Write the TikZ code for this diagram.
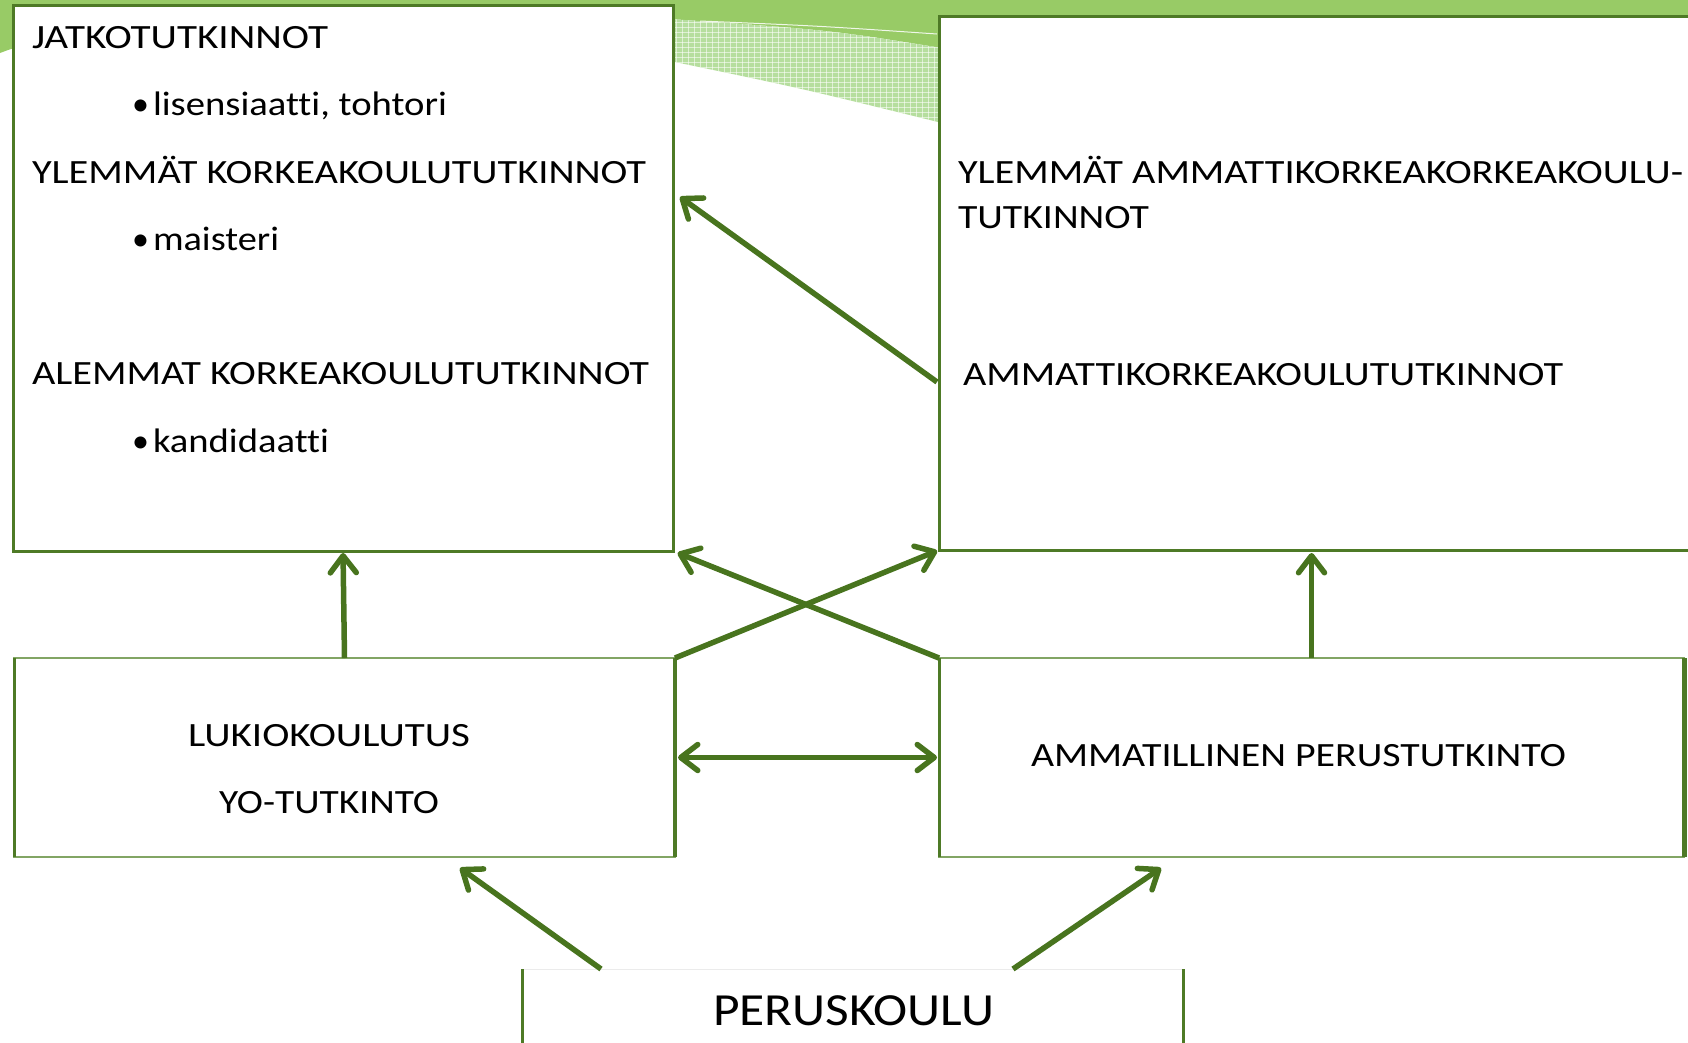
\documentclass[tikz,border=0pt]{standalone}
\usepackage{fontspec}
\setmainfont{Carlito}[Ligatures={CommonOff}]
\usepackage{graphicx}
\usetikzlibrary{arrows.meta,calc}
\definecolor{bandgreen}{RGB}{152,203,102}
\definecolor{hatchgreen}{RGB}{182,222,158}
\definecolor{boxgreen}{RGB}{78,122,38}
\definecolor{thinline}{RGB}{130,165,100}
\definecolor{arrowgreen}{RGB}{72,116,30}
\newcommand\fitw[2]{\resizebox{#1pt}{\height}{#2}}
\newcommand\bul{\makebox[21pt][l]{\textbullet}}
\tikzset{
  box/.style={rectangle, inner sep=0pt, outer sep=0pt, fill=white},
  thickbox/.style={box, draw=boxgreen, line width=3pt},
  thinbox/.style={box, draw=thinline, line width=1.5pt},
  txt/.style={inner sep=0pt, outer sep=0pt, anchor=base west, font=\fontsize{34}{40}\selectfont},
  bigtxt/.style={inner sep=0pt, outer sep=0pt, anchor=base west, font=\fontsize{46}{54}\selectfont},
  arr/.style={draw=arrowgreen, line width=5.5pt, line cap=butt,
    -{Straight Barb[length=17pt,width=26pt,round]}},
  darr/.style={draw=arrowgreen, line width=5.5pt, line cap=butt,
    {Straight Barb[length=17pt,width=26pt,round]}-{Straight Barb[length=17pt,width=26pt,round]}},
}
\begin{document}
\begin{tikzpicture}[x=1pt,y=-1pt]
\useasboundingbox (0,0) rectangle (1688,1042);
\begin{scope}
\clip (0,0) rectangle (1688,1042);
% background band
\fill[bandgreen] (0,0) rectangle (1688,17);
\fill[bandgreen] (0,0) -- (14,0) -- (14,48) .. controls (8,50) .. (0,53) -- cycle;
\fill[bandgreen] (670,0) -- (942,0) -- (942,48) .. controls (830,30) .. (670,19) -- cycle;
\fill[hatchgreen] (670,19) .. controls (830,30) .. (942,48) -- (942,123) .. controls (800,88) .. (670,61) -- cycle;
\begin{scope}
\clip (670,19) .. controls (830,30) .. (942,48) -- (942,123) .. controls (800,88) .. (670,61) -- cycle;
\foreach \i in {0,...,46} {\draw[white, line width=0.6pt, opacity=0.55] (670+6*\i,0) -- (670+6*\i,130);}
\foreach \j in {0,...,22} {\draw[white, line width=0.6pt, opacity=0.55] (660,12+5*\j) -- (950,12+5*\j);}
\end{scope}
\draw[white!85!bandgreen, line width=1pt] (700,21) .. controls (820,26) .. (937,34);

% boxes
\node[thickbox, minimum width=660pt, minimum height=546pt] (tl) at (343,278) {};
\node[thickbox, minimum width=771pt, minimum height=534pt] (tr) at (1324.5,283) {};
\node[thinbox, minimum width=661pt, minimum height=199pt] (ml) at (344.5,757.5) {};
\node[thinbox, minimum width=745pt, minimum height=199pt] (mr) at (1311.5,757.5) {};
\node[box, draw=white!92!black, line width=1pt, minimum width=661pt, minimum height=140pt] (pk) at (852.5,1039) {};
\end{scope}
% thicker edges
\draw[boxgreen, line width=3pt] (ml.north west) -- (ml.south west);
\draw[boxgreen, line width=3.5pt] (ml.north east) -- (ml.south east);
\draw[boxgreen, line width=3pt] (mr.north west) -- (mr.south west);
\draw[boxgreen, line width=5pt] (mr.north east) -- (mr.south east);
\draw[boxgreen, line width=3pt] (pk.north west) -- (pk.south west);
\draw[boxgreen, line width=3pt] (pk.north east) -- (pk.south east);

% texts
\node[txt] (t1) at (32,48) {\fitw{296}{JATKOTUTKINNOT}};
\node[txt] (t2) at (132,115) {\bul\fitw{294}{lisensiaatti, tohtori}};
\node[txt] (t3) at (32,183) {\fitw{614}{YLEMMÄT KORKEAKOULUTUTKINNOT}};
\node[txt] (t4) at (132,250) {\bul\fitw{126}{maisteri}};
\node[txt] (t5) at (32,384) {\fitw{617}{ALEMMAT KORKEAKOULUTUTKINNOT}};
\node[txt] (t6) at (132,452) {\bul\fitw{176}{kandidaatti}};
\node[txt] (t7) at (958,183) {\fitw{725}{YLEMMÄT AMMATTIKORKEAKORKEAKOULU-}};
\node[txt] (t8) at (958,228) {\fitw{191}{TUTKINNOT}};
\node[txt] (t9) at (963,385) {\fitw{600}{AMMATTIKORKEAKOULUTUTKINNOT}};
\node[txt] (t10) at (188,746) {\fitw{282}{LUKIOKOULUTUS}};
\node[txt] (t11) at (219,813) {\fitw{220}{YO-TUTKINTO}};
\node[txt] (t12) at (1031,766) {\fitw{535}{AMMATILLINEN PERUSTUTKINTO}};
\node[bigtxt] (t13) at (713,1025) {\fitw{281}{PERUSKOULU}};

% connectors
\draw[arr, shorten >=2pt] (ml.north) -- (tl.south);
\draw[arr] (mr.north) -- (mr.north |- 0,553);
\draw[arr, shorten >=2pt] (ml.north east) -- (tr.south west);
\draw[arr, shorten >=5pt] (mr.north west) -- (tl.south east);
\draw[darr, shorten <=3pt, shorten >=2pt] (ml.east) -- (mr.west);
\coordinate (c6s) at ($(tr.north west)+(-2,366)$);
\coordinate (c6e) at ($(tl.north east)+(7,192)$);
\draw[arr] (c6s) -- (c6e);
\coordinate (c7s) at ($(pk.north west)+(79,0)$);
\coordinate (c7e) at ($(ml.south west)+(446,11)$);
\coordinate (c8s) at ($(pk.north west)+(491,0)$);
\coordinate (c8e) at ($(mr.south west)+(222,11)$);
\draw[arr] (c7s) -- (c7e);
\draw[arr] (c8s) -- (c8e);
\end{tikzpicture}
\end{document}
